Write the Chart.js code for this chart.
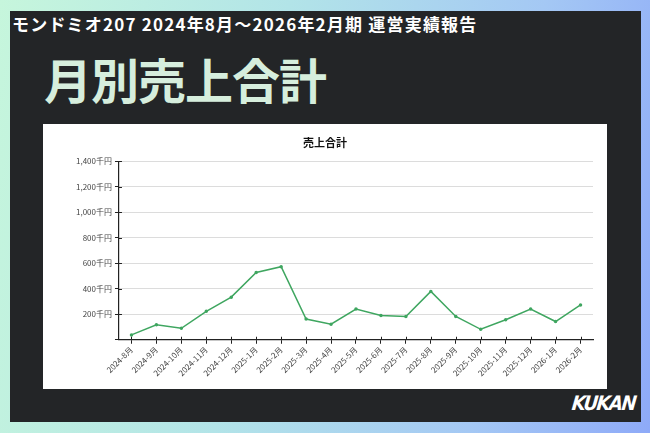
<!DOCTYPE html>
<html lang="ja">
<head>
<meta charset="utf-8">
<title>月別売上合計</title>
<script src="https://cdn.jsdelivr.net/npm/chart.js@4/dist/chart.umd.min.js"></script>
<style>
  html, body { margin: 0; padding: 0; }
  body {
    width: 650px; height: 433px; overflow: hidden; position: relative;
    background: linear-gradient(100deg, #c6f6dc 0%, #b2e4e8 40%, #a4c8f4 75%, #8eaaf8 100%);
    font-family: "Noto Sans CJK JP", "Noto Sans", sans-serif;
  }
  .panel {
    position: absolute; left: 10px; top: 11px; width: 631px; height: 411px;
    background: #232527;
  }
  .header {
    position: absolute; left: 2px; top: 0px;
    color: #fff; font-weight: 700; font-size: 17px; letter-spacing: 1.2px;
  }
  .title {
    position: absolute; left: 34px; top: 43px; line-height: 1;
    color: #d6eedd; font-weight: 700; font-size: 48px; letter-spacing: -1px;
  }
  .box {
    position: absolute; left: 33px; top: 113px; width: 564px; height: 265px;
    background: #fff;
  }
  .logo {
    position: absolute; right: 6px; bottom: 7px;
    color: #fff; font-family: "DejaVu Sans Condensed", "DejaVu Sans", sans-serif;
    font-weight: 700; font-style: italic; font-size: 20px; letter-spacing: -1.5px;
    transform: skewX(-6deg);
  }
</style>
</head>
<body>
<div class="panel">
  <div class="header">モンドミオ207 2024年8月～2026年2月期 運営実績報告</div>
  <div class="title">月別売上合計</div>
  <div class="box"><canvas id="salesChart" width="564" height="265"></canvas></div>
  <div class="logo">KUKAN</div>
</div>
<script>
const months = ['2024-8月', '2024-9月', '2024-10月', '2024-11月', '2024-12月', '2025-1月', '2025-2月',
  '2025-3月', '2025-4月', '2025-5月', '2025-6月', '2025-7月', '2025-8月', '2025-9月', '2025-10月',
  '2025-11月', '2025-12月', '2026-1月', '2026-2月'];
const salesTotal = [38, 117, 90, 223, 334, 528, 573, 162, 122, 241, 191, 183, 379, 183, 82, 157, 241, 143, 273];
const yTicks = [200, 400, 600, 800, 1000, 1200, 1400];

// short dark marks crossing the axis lines, like the original tick marks
const crossTicks = {
  id: 'crossTicks',
  afterDraw(chart) {
    const c = chart.ctx, x = chart.scales.x, y = chart.scales.y;
    c.save();
    c.strokeStyle = '#222';
    c.lineWidth = 1;
    c.beginPath();
    x.ticks.forEach((t, i) => {
      const px = Math.round(x.getPixelForTick(i)) + 0.5;
      c.moveTo(px, x.top - 3); c.lineTo(px, x.top);
    });
    y.ticks.forEach((t, i) => {
      if (t.value === 0) return;
      const py = Math.round(y.getPixelForTick(i)) + 0.5;
      c.moveTo(y.right, py); c.lineTo(y.right + 3, py);
    });
    c.stroke();
    c.restore();
  }
};

new Chart(document.getElementById('salesChart'), {
  type: 'line',
  data: {
    labels: months,
    datasets: [{
      label: '売上合計',
      data: salesTotal,
      borderColor: '#3fa660',
      backgroundColor: '#3fa660',
      borderWidth: 1.5,
      pointRadius: 1,
      pointHoverRadius: 3,
      tension: 0,
      fill: false
    }]
  },
  options: {
    responsive: false,
    animation: false,
    layout: { padding: { left: 14, right: 14, top: 4, bottom: 10 } },
    plugins: {
      legend: { display: false },
      tooltip: { enabled: false },
      title: {
        display: true,
        text: '売上合計',
        color: '#111',
        font: { family: '"Noto Sans CJK JP", sans-serif', size: 11, weight: 'bold' },
        padding: { top: 8, bottom: 12 }
      }
    },
    scales: {
      x: {
        offset: true,
        grid: { display: true, offset: false, drawOnChartArea: false, color: '#222', tickLength: 4 },
        border: { color: '#222', width: 1.2 },
        ticks: {
          color: '#444', maxRotation: 45, minRotation: 45, autoSkip: false, padding: 1,
          font: { family: '"Noto Sans CJK JP", sans-serif', size: 8 }
        }
      },
      y: {
        min: 0, max: 1400,
        afterBuildTicks: axis => { axis.ticks = [0, ...yTicks].map(v => ({ value: v })); },
        afterFit: axis => { axis.width += 16; },
        grid: { color: ctx => ctx.tick && ctx.tick.value === 0 ? 'rgba(0,0,0,0)' : '#dcdcdc', tickColor: '#222', tickLength: 4 },
        border: { color: '#222', width: 1.2 },
        ticks: {
          color: '#444', padding: 3,
          font: { family: '"Noto Sans CJK JP", sans-serif', size: 8 },
          callback: v => v === 0 ? '' : v.toLocaleString('en-US') + '千円'
        }
      }
    }
  },
  plugins: [crossTicks]
});
</script>
</body>
</html>
